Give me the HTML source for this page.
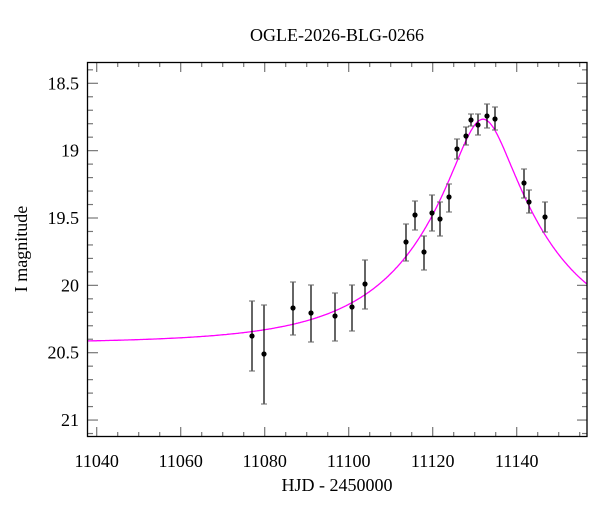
<!DOCTYPE html>
<html><head><meta charset="utf-8"><style>
body{margin:0;background:#fff}
svg text{font-family:"Liberation Serif",serif;fill:#000}
</style></head><body>
<svg id="s" width="600" height="512" xmlns="http://www.w3.org/2000/svg">
<text x="337" y="41" font-size="18" text-anchor="middle">OGLE-2026-BLG-0266</text>
<text x="337" y="491" font-size="18" text-anchor="middle">HJD - 2450000</text>
<text x="27" y="249" font-size="18" text-anchor="middle" transform="rotate(-90 27 249)">I magnitude</text>
<g id="ticks" stroke="#777" stroke-width="1.2"></g>
<g id="lab" font-size="18"></g>
<path id="curve" fill="none" stroke="#ff00ff" stroke-width="1.3"/>
<g id="pts"></g>
<rect x="87.5" y="62.5" width="499.5" height="374" fill="none" stroke="#000" stroke-width="1.3"/>
</svg>
<script>
const X=t=>96.7+(t-11040)*4.2, Y=m=>83.3+(m-18.5)*134.7;
let tk='',lb='';
for(let t=11040;t<=11155;t+=5){const x=X(t),L=t%20==0?10:5;
tk+=`<line x1="${x}" y1="62" x2="${x}" y2="${62+L}"/><line x1="${x}" y1="437" x2="${x}" y2="${437-L}"/>`;
if(t%20==0)lb+=`<text x="${x}" y="467" text-anchor="middle">${t}</text>`;}
for(let i=184;i<=211;i++){const m=i/10;const y=Y(m),maj=i%5==0,L=maj?10:5;
tk+=`<line x1="88" y1="${y}" x2="${88+L}" y2="${y}"/><line x1="587" y1="${y}" x2="${587-L}" y2="${y}"/>`;
if(maj)lb+=`<text x="79" y="${y+6}" text-anchor="end">${i%10==0?String(i/10):m.toFixed(1)}</text>`;}
document.getElementById('ticks').innerHTML=tk;document.getElementById('lab').innerHTML=lb;
let d='';const t0=11132,tE=31,u0=0.22,m0=20.43;
for(let t=11037.9;t<=11156.7;t+=0.25){const dt=(t-t0)/tE,u=Math.sqrt(u0*u0+dt*dt),A=(u*u+2)/(u*Math.sqrt(u*u+4));
d+=(d?'L':'M')+X(t).toFixed(1)+','+Y(m0-2.5*Math.log10(A)).toFixed(1);}
document.getElementById('curve').setAttribute('d',d);
const P=[[252,336,301,371],[264,354,305,404],[293,308,282,335],[311,313,285,342],[335,316,293,341],[352,307,285,331],[365,284,260,309],[406,242,224,261],[415,215,201,230],[424,252,236,270],[432,213,195,231],[440,219,202,236],[449,197,184,212],[457,149,139,159],[466,136,127,145],[471,120,114,126],[478,125,114,135],[487,116,104,128],[495,119,107,130],[524,183,169,198],[529,202,190,213],[545,217,202,232]];
let s='';for(const[x,y,a,b]of P){s+=`<line x1="${x}" y1="${a}" x2="${x}" y2="${b}" stroke="#000" stroke-width="1.2"/><line x1="${x-3}" y1="${a}" x2="${x+3}" y2="${a}" stroke="#666"/><line x1="${x-3}" y1="${b}" x2="${x+3}" y2="${b}" stroke="#666"/><circle cx="${x}" cy="${y}" r="2.6" fill="#000"/>`;}
document.getElementById('pts').innerHTML=s;
</script>
</body></html>
